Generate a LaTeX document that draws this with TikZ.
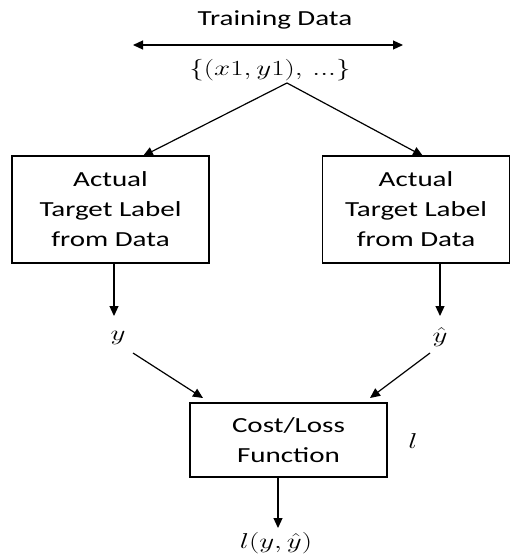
\RequirePackage{fix-cm}
\documentclass[tikz,border=0pt]{standalone}
\usepackage{fontspec}
\setmainfont{Carlito}[FakeStretch=1.35]
\usetikzlibrary{arrows.meta}
\newcommand{\wide}[1]{\scalebox{1.35}[1]{#1}}
\begin{document}
\begin{tikzpicture}[x=1pt,y=-1pt,
  box/.style={draw,line width=1.2pt,inner sep=0pt,align=center,font=\fontsize{21.5}{30}\selectfont},
  lbl/.style={inner sep=0pt,font=\fontsize{21.5}{24}\selectfont},
  arr/.style={line width=1.2pt,-{Triangle[length=10pt,width=9pt]}}]
\useasboundingbox (0,0) rectangle (510,554);
\node[lbl] (td) at (275,20) {Training Data};
\coordinate (dl) at (133,45);
\coordinate (dr) at (403,45);
\draw[line width=1.2pt,{Triangle[length=10pt,width=9pt]}-{Triangle[length=10pt,width=9pt]}] (dl) -- (dr);
\node[lbl] (set) at (270,70) {\wide{$\{(x1,y1),\,...\}$}};
\coordinate (apex) at (287,83);
\node[box,minimum width=197pt,minimum height=107pt] (lb) at (110.5,209.5) {Actual\\Target Label\\from Data};
\node[box,minimum width=187pt,minimum height=107pt] (rb) at (416,209.5) {Actual\\Target Label\\from Data};
\draw[arr] (apex) -- (143,156);
\draw[arr] (apex) -- (423,156);
\node[lbl] (y) at (118,338) {\wide{$y$}};
\node[lbl] (yh) at (440,337) {\wide{$\hat{y}$}};
\draw[arr] (lb.south -| 114,0) -- (114,316);
\draw[arr] (rb.south -| 440,0) -- (440,316);
\node[box,minimum width=197pt,minimum height=74pt] (cf) at (288.5,440) {Cost/Loss\\Function};
\node[lbl] (l) at (413,441) {\wide{$l$}};
\draw[arr] (133,353) -- (203,398);
\draw[arr] (430,353) -- (370,398);
\node[lbl] (out) at (276,543) {\wide{$l(y,\hat{y})$}};
\draw[arr] (cf.south -| 278,0) -- (278,528);
\end{tikzpicture}
\end{document}
